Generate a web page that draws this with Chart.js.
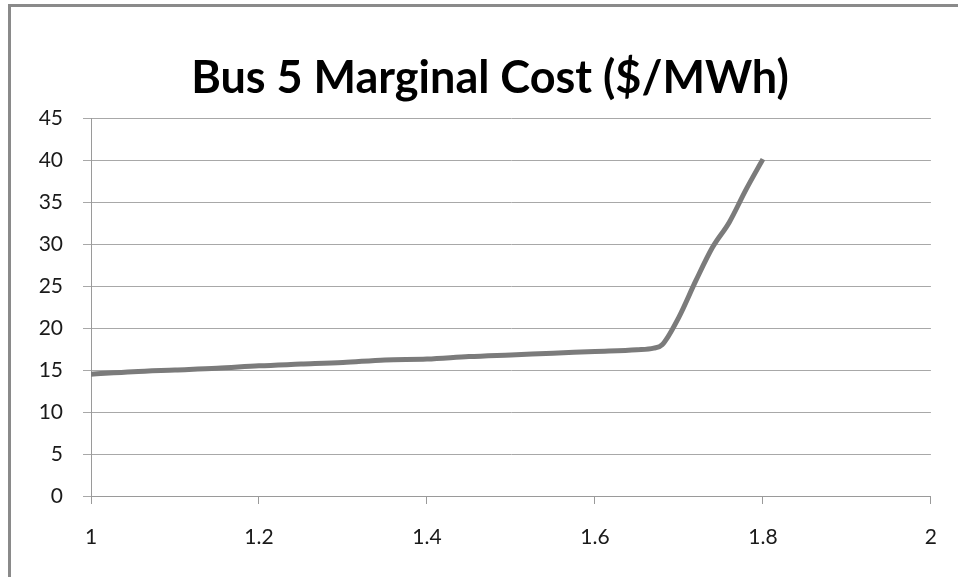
<!DOCTYPE html>
<html>
<head>
<meta charset="utf-8">
<script src="https://cdn.jsdelivr.net/npm/chart.js@4.4.1/dist/chart.umd.min.js"></script>
<style>
  html, body { margin: 0; padding: 0; background: #fff; }
  #wrap { position: relative; width: 958px; height: 577px; overflow: hidden; }
  #frame {
    position: absolute; left: 8px; top: 4px; width: 1000px; height: 700px;
    border-left: 3px solid #8a8a8a; border-top: 3px solid #8a8a8a;
  }
  canvas { position: absolute; left: 0; top: 0; }
</style>
</head>
<body>
<div id="wrap">
  <div id="frame"></div>
  <canvas id="cost-chart" width="958" height="577"></canvas>
</div>
<script>
// Charge relative au bus 5 et coût marginal correspondant
const loadLevels = [1.00, 1.05, 1.10, 1.15, 1.20, 1.25, 1.30, 1.35, 1.40, 1.45, 1.50, 1.55, 1.60, 1.65, 1.67, 1.68, 1.70, 1.72, 1.74, 1.76, 1.78, 1.80];
const marginalCost = [14.5, 14.8, 15.0, 15.2, 15.5, 15.7, 15.9, 16.2, 16.3, 16.6, 16.8, 17.0, 17.2, 17.4, 17.6, 18.0, 21.3, 25.6, 29.6, 32.6, 36.5, 40.1];

// Graduations des axes
const xTicks = [1, 1.2, 1.4, 1.6, 1.8, 2];
const yTicks = [0, 5, 10, 15, 20, 25, 30, 35, 40, 45];

const chartTitle = 'Bus 5 Marginal Cost ($/MWh)';

const points = loadLevels.map((x, i) => ({ x: x, y: marginalCost[i] }));

// Titre dessiné à la main pour le centrer sur le cadre et non sur le canvas
const titlePlugin = {
    id: 'titreCentre',
    afterDraw(chart) {
        const c = chart.ctx;
        c.save();
        c.font = 'bold 45px Lato';
        c.fillStyle = '#000';
        c.textAlign = 'center';
        c.textBaseline = 'alphabetic';
        c.fillText(chartTitle, 490, 93);
        c.restore();
    }
};

const ctx = document.getElementById('cost-chart').getContext('2d');

new Chart(ctx, {
    type: 'line',
    data: {
        datasets: [{
            data: points,
            borderColor: '#7b7b7b',
            borderWidth: 5,
            pointRadius: 0,
            cubicInterpolationMode: 'monotone',
            fill: false
        }]
    },
    options: {
        responsive: false,
        animation: false,
        layout: { padding: { left: 0, right: 24, top: 118, bottom: 0 } },
        plugins: {
            legend: { display: false },
            tooltip: { enabled: false },
            title: { display: false }
        },
        scales: {
            x: {
                type: 'linear',
                min: 1,
                max: 2,
                afterBuildTicks: axis => { axis.ticks = xTicks.map(v => ({ value: v })); },
                afterFit: axis => { axis.height = 81; },
                grid: {
                    drawOnChartArea: false,
                    color: '#9a9a9a',
                    tickLength: 8
                },
                border: { color: '#9a9a9a' },
                ticks: {
                    color: '#1a1a1a',
                    padding: 21,
                    maxRotation: 0,
                    font: { family: 'Lato', size: 21 },
                    callback: v => String(v)
                }
            },
            y: {
                min: 0,
                max: 45,
                afterBuildTicks: axis => { axis.ticks = yTicks.map(v => ({ value: v })); },
                afterFit: axis => { axis.width = 91; },
                grid: {
                    color: '#a8a8a8',
                    tickLength: 8
                },
                border: { color: '#9a9a9a' },
                ticks: {
                    color: '#1a1a1a',
                    padding: 20,
                    font: { family: 'Lato', size: 21 }
                }
            }
        }
    },
    plugins: [titlePlugin]
});
</script>
</body>
</html>
